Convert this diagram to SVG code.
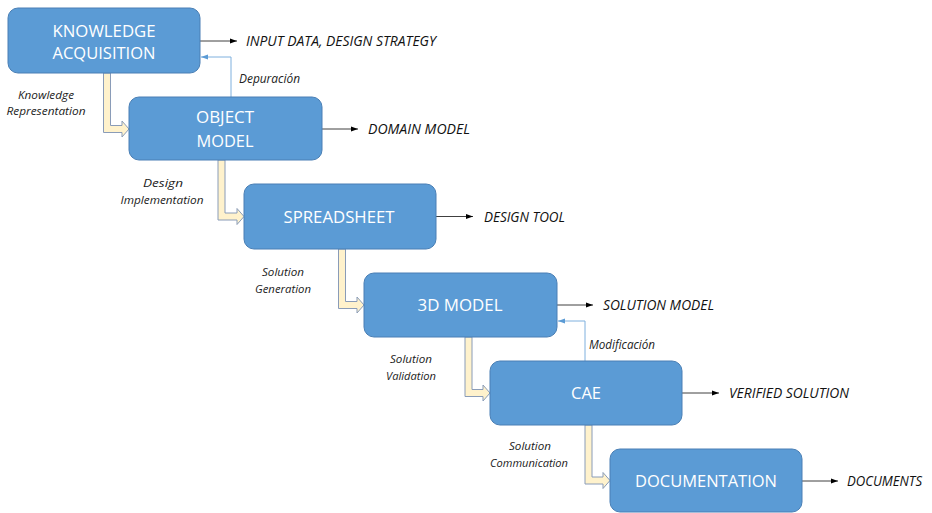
<svg xmlns="http://www.w3.org/2000/svg" width="932" height="513" viewBox="0 0 932 513">
<defs>
<style>
.box{fill:#5b9bd5;stroke:#4a7fb5;stroke-width:1}
.bt{font-family:"Open Sans","Liberation Sans",sans-serif;font-size:16.5px;fill:#ffffff;text-anchor:middle}
.out{font-family:"Open Sans","Liberation Sans",sans-serif;font-size:15px;font-style:italic;fill:#111111}
.lab{font-family:"Open Sans","Liberation Sans",sans-serif;font-size:11.5px;font-style:italic;fill:#222222;text-anchor:middle}
.fl{font-family:"Open Sans","Liberation Sans",sans-serif;font-size:12px;font-style:italic;fill:#222222}
.hollow{fill:#fff2cc;stroke:#8a9cb8;stroke-width:1}
.oline{fill:none;stroke:#404040;stroke-width:1}
.fline{fill:none;stroke:#7fb0de;stroke-width:1}
</style>
<marker id="ah" viewBox="0 0 10 10" refX="10" refY="5" markerWidth="7" markerHeight="7" markerUnits="userSpaceOnUse" orient="auto"><path d="M0,1.5 L10,5 L0,8.5 Z" fill="#000"/></marker>
<marker id="fh" viewBox="0 0 10 10" refX="10" refY="5" markerWidth="7" markerHeight="7" markerUnits="userSpaceOnUse" orient="auto"><path d="M0,1.5 L10,5 L0,8.5 Z" fill="#5b9bd5"/></marker>
</defs>
<rect width="932" height="513" fill="#ffffff"/>
<g id="connectors">
<path class="hollow" d="M103.5,73 L103.5,132.5 L122,132.5 L122,137 L129,129 L122,121 L122,125.5 L110.5,125.5 L110.5,73 Z"/>
<path class="hollow" d="M218,160 L218,220 L237,220 L237,224.5 L244,216.5 L237,208.5 L237,213 L225,213 L225,160 Z"/>
<path class="hollow" d="M338.5,249 L338.5,308.5 L357,308.5 L357,313 L364,305 L357,297 L357,301.5 L345.5,301.5 L345.5,249 Z"/>
<path class="hollow" d="M465,337 L465,396.5 L483,396.5 L483,401 L490,393 L483,385 L483,389.5 L472,389.5 L472,337 Z"/>
<path class="hollow" d="M585,425 L585,484 L603,484 L603,488.5 L610,480.5 L603,472.5 L603,477 L592,477 L592,425 Z"/>
<line class="oline" x1="200" y1="41" x2="237" y2="41" marker-end="url(#ah)"/>
<line class="oline" x1="322" y1="129" x2="358" y2="129" marker-end="url(#ah)"/>
<line class="oline" x1="436" y1="216.5" x2="473" y2="216.5" marker-end="url(#ah)"/>
<line class="oline" x1="557" y1="305" x2="593" y2="305" marker-end="url(#ah)"/>
<line class="oline" x1="682" y1="393" x2="719" y2="393" marker-end="url(#ah)"/>
<line class="oline" x1="802" y1="481" x2="838" y2="481" marker-end="url(#ah)"/>
<path class="fline" d="M231,97 L231,57 L201,57" marker-end="url(#fh)"/>
<path class="fline" d="M585,361 L585,321 L558,321" marker-end="url(#fh)"/>
</g>
<g id="n1"><rect class="box" x="8" y="8" width="192" height="65" rx="10"/><text class="bt" x="104" y="37" textLength="103" lengthAdjust="spacingAndGlyphs">KNOWLEDGE</text><text class="bt" x="104" y="59" textLength="103" lengthAdjust="spacingAndGlyphs">ACQUISITION</text></g>
<g id="n2"><rect class="box" x="129" y="97" width="193" height="63" rx="10"/><text class="bt" x="225" y="123" textLength="58" lengthAdjust="spacingAndGlyphs">OBJECT</text><text class="bt" x="225" y="147" textLength="57" lengthAdjust="spacingAndGlyphs">MODEL</text></g>
<g id="n3"><rect class="box" x="244" y="184" width="192" height="65" rx="10"/><text class="bt" x="339" y="223" textLength="111" lengthAdjust="spacingAndGlyphs">SPREADSHEET</text></g>
<g id="n4"><rect class="box" x="364" y="273" width="193" height="64" rx="10"/><text class="bt" x="460" y="311" textLength="85" lengthAdjust="spacingAndGlyphs">3D MODEL</text></g>
<g id="n5"><rect class="box" x="490" y="361" width="192" height="64" rx="10"/><text class="bt" x="586" y="399" textLength="30" lengthAdjust="spacingAndGlyphs">CAE</text></g>
<g id="n6"><rect class="box" x="610" y="449" width="192" height="63" rx="10"/><text class="bt" x="706" y="487" textLength="142" lengthAdjust="spacingAndGlyphs">DOCUMENTATION</text></g>
<g id="outputs">
<text class="out" x="246" y="46" textLength="190" lengthAdjust="spacingAndGlyphs">INPUT DATA, DESIGN STRATEGY</text>
<text class="out" x="368" y="134" textLength="102" lengthAdjust="spacingAndGlyphs">DOMAIN MODEL</text>
<text class="out" x="484" y="222" textLength="81" lengthAdjust="spacingAndGlyphs">DESIGN TOOL</text>
<text class="out" x="603" y="310" textLength="111" lengthAdjust="spacingAndGlyphs">SOLUTION MODEL</text>
<text class="out" x="729" y="398" textLength="120" lengthAdjust="spacingAndGlyphs">VERIFIED SOLUTION</text>
<text class="out" x="847" y="486" textLength="75" lengthAdjust="spacingAndGlyphs">DOCUMENTS</text>
</g>
<g id="labels">
<text class="lab" x="46" y="98.5" textLength="56" lengthAdjust="spacingAndGlyphs">Knowledge</text>
<text class="lab" x="46" y="115" textLength="79" lengthAdjust="spacingAndGlyphs">Representation</text>
<text class="lab" x="163" y="187" textLength="40" lengthAdjust="spacingAndGlyphs">Design</text>
<text class="lab" x="162" y="203.5" textLength="83" lengthAdjust="spacingAndGlyphs">Implementation</text>
<text class="lab" x="283" y="276" textLength="42" lengthAdjust="spacingAndGlyphs">Solution</text>
<text class="lab" x="283" y="292.5" textLength="56" lengthAdjust="spacingAndGlyphs">Generation</text>
<text class="lab" x="411" y="363" textLength="42" lengthAdjust="spacingAndGlyphs">Solution</text>
<text class="lab" x="411" y="379.5" textLength="50" lengthAdjust="spacingAndGlyphs">Validation</text>
<text class="lab" x="530" y="450" textLength="42" lengthAdjust="spacingAndGlyphs">Solution</text>
<text class="lab" x="529" y="466.5" textLength="78" lengthAdjust="spacingAndGlyphs">Communication</text>
<text class="fl" x="239" y="83" textLength="61" lengthAdjust="spacingAndGlyphs">Depuración</text>
<text class="fl" x="589" y="349" textLength="66" lengthAdjust="spacingAndGlyphs">Modificación</text>
</g>
</svg>
